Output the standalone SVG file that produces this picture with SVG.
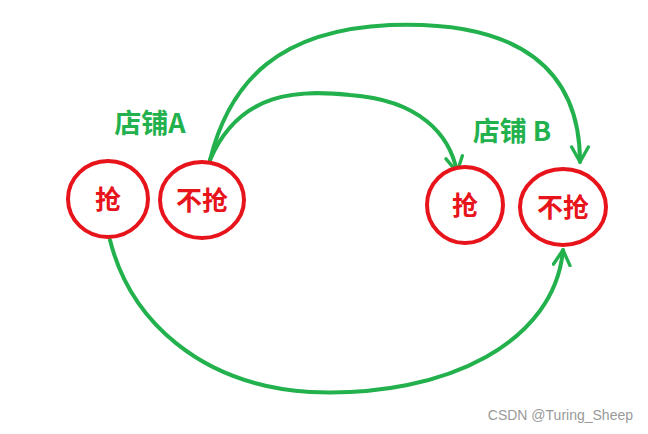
<svg xmlns="http://www.w3.org/2000/svg" width="648" height="434" viewBox="0 0 648 434">
<style>
.n{fill:#fff;stroke:#e8141c;stroke-width:4}
.t{font-family:"Noto Sans CJK SC","Liberation Sans",sans-serif;font-weight:bold;fill:#e8141c;font-size:26px;text-anchor:middle}
.g{font-family:"Noto Sans CJK SC","Liberation Sans",sans-serif;font-weight:bold;fill:#22b14c;font-size:27px;text-anchor:middle}
.c{fill:none;stroke:#22b14c;stroke-width:4;stroke-linecap:round}
</style>
<defs>
<marker id="a" viewBox="0 0 12 12" refX="10" refY="6" markerWidth="5" markerHeight="5" orient="auto" markerUnits="strokeWidth">
<polyline points="1,1 10,6 1,11" fill="none" stroke="#22b14c" stroke-width="2" stroke-linecap="round" stroke-linejoin="round"/>
</marker>
</defs>
<rect width="648" height="434" fill="#fff"/>
<g id="connectors">
<path class="c" d="M210,160 C240,90 300,90 350,95 C420,100 450,135 457,172" marker-end="url(#a)"/>
<path class="c" d="M210,160 C230,80 280,30 390,25 C520,20 580,70 580,162" marker-end="url(#a)"/>
<path class="c" d="M110,240 C130,320 200,385 310,392 C450,398 555,340 563,250" marker-end="url(#a)"/>
</g>
<g id="labelA"><text class="g" x="150" y="133">店铺A</text></g>
<g id="labelB"><text class="g" x="512" y="141">店铺 B</text></g>
<g id="A1"><ellipse class="n" cx="108" cy="199" rx="40" ry="38"/><text class="t" x="108" y="209">抢</text></g>
<g id="A2"><ellipse class="n" cx="202" cy="200" rx="42" ry="38"/><text class="t" x="202" y="210">不抢</text></g>
<g id="B1"><ellipse class="n" cx="465" cy="205" rx="38" ry="38"/><text class="t" x="465" y="215">抢</text></g>
<g id="B2"><ellipse class="n" cx="563" cy="207" rx="43" ry="38"/><text class="t" x="563" y="217">不抢</text></g>
<text x="633" y="420" text-anchor="end" font-family="Liberation Sans,sans-serif" font-size="14" fill="#999">CSDN @Turing_Sheep</text>
</svg>
